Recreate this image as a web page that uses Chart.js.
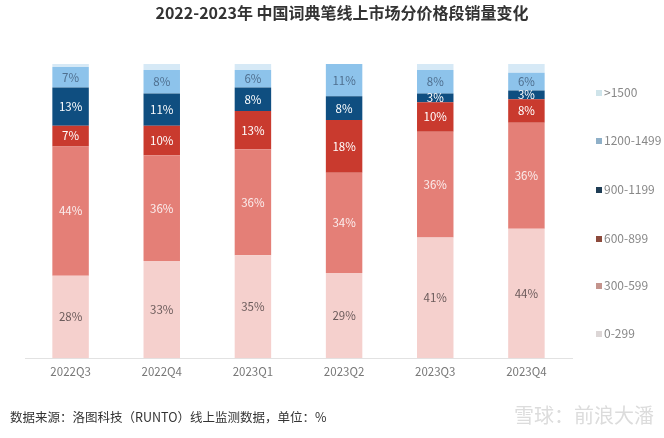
<!DOCTYPE html>
<html>
<head>
<meta charset="utf-8">
<script src="https://cdn.jsdelivr.net/npm/chart.js@4"></script>
<style>
  html, body { margin: 0; padding: 0; background: #fff; }
  #wrap { position: relative; width: 664px; height: 438px; }
  #title { position: absolute; left: 0; top: 1px; width: 684px; text-align: center; font: bold 16px "Noto Sans CJK SC", sans-serif; color: #333; line-height: 22px; }
  #footer { position: absolute; left: 10px; top: 407px; font: 12.5px "Noto Sans CJK SC", sans-serif; color: #333; }
  #mark { position: absolute; right: 10px; top: 400px; font: 20px "Noto Sans CJK SC", sans-serif; color: #dcdcdc; }
  #legend { position: absolute; left: 596px; top: 0; font: 12px "Noto Sans CJK SC", sans-serif; color: #888; }
  #legend div { position: absolute; white-space: nowrap; line-height: 14px; }
  #legend span { display: inline-block; width: 6px; height: 6px; margin-right: 2px; vertical-align: 1px; }
</style>
</head>
<body>
<div id="wrap">
  <canvas id="chart" width="664" height="438"></canvas>
  <div id="title">2022-2023年 中国词典笔线上市场分价格段销量变化</div>
  <div id="legend"></div>
  <div id="footer">数据来源：洛图科技（RUNTO）线上监测数据，单位：%</div>
  <div id="mark">雪球：前浪大潘</div>
</div>
<script>
const quarters = ["2022Q3", "2022Q4", "2023Q1", "2023Q2", "2023Q3", "2023Q4"];

const seriesNames = ["0-299", "300-599", "600-899", "900-1199", "1200-1499", ">1500"];
const s0to299 = [28, 33, 35, 29, 41, 44];
const s300to599 = [44, 36, 36, 34, 36, 36];
const s600to899 = [7, 10, 13, 18, 10, 8];
const s900to1199 = [13, 11, 8, 8, 3, 3];
const s1200to1499 = [7, 8, 6, 11, 8, 6];
const sOver1500 = [1, 2, 2, 0, 2, 3];

const seriesData = [s0to299, s300to599, s600to899, s900to1199, s1200to1499, sOver1500];
const colors = ["#F5D0CD", "#E47F77", "#C93A2E", "#0F4E80", "#8DC3EB", "#D6E9F6"];
const legendColors = ["#dcd6d6", "#c4948d", "#8c4a3c", "#1f3d55", "#8fb0c8", "#cfe4ea"];
const labelColors = ["#6b5b5b", "#fbeeee", "#ffffff", "#ffffff", "#4f6f8f", null];

// texto dos percentuais no meio de cada segmento
const segmentLabels = {
  id: "segmentLabels",
  afterDatasetsDraw(chart) {
    const ctx = chart.ctx;
    ctx.save();
    ctx.font = '11.5px "Noto Sans CJK SC", sans-serif';
    ctx.textAlign = "center";
    ctx.textBaseline = "middle";
    chart.data.datasets.forEach((ds, i) => {
      if (!labelColors[i]) return;
      const meta = chart.getDatasetMeta(i);
      meta.data.forEach((bar, j) => {
        const v = ds.data[j];
        if (!v) return;
        ctx.fillStyle = labelColors[i];
        ctx.fillText(v + "%", bar.x, (bar.y + bar.base) / 2);
      });
    });
    ctx.restore();
  }
};

// legenda à direita, de cima (>1500) para baixo (0-299)
const legendTops = [326, 278, 231, 182, 133, 85];
const legendEl = document.getElementById("legend");
seriesNames.forEach((name, i) => {
  const item = document.createElement("div");
  item.style.top = legendTops[i] + "px";
  item.innerHTML = `<span style="background:${legendColors[i]}"></span>${name}`;
  legendEl.appendChild(item);
});

new Chart(document.getElementById("chart").getContext("2d"), {
  type: "bar",
  data: {
    labels: quarters,
    datasets: seriesNames.map((name, i) => ({
      label: name,
      data: seriesData[i],
      backgroundColor: colors[i],
      borderWidth: 0,
      barPercentage: 0.4,
      categoryPercentage: 1
    }))
  },
  options: {
    responsive: false,
    animation: false,
    layout: { padding: { left: 25, right: 92, top: 64, bottom: 52 } },
    scales: {
      x: {
        stacked: true,
        grid: { display: false, drawTicks: false },
        border: { color: "#e2e2e2" },
        ticks: { color: "#777", padding: 7, font: { size: 11.5, family: '"Noto Sans CJK SC", sans-serif' } }
      },
      y: {
        stacked: true,
        display: false,
        min: 0,
        max: 100
      }
    },
    plugins: {
      legend: { display: false },
      tooltip: { enabled: false }
    }
  },
  plugins: [segmentLabels]
});
</script>
</body>
</html>
